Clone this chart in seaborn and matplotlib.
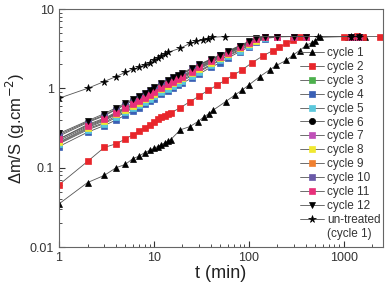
import numpy as np
import pandas as pd
import matplotlib
matplotlib.use('Agg')
import matplotlib.pyplot as plt
from matplotlib.lines import Line2D
import seaborn as sns

# times (min)
t_c1 = [1, 2, 3, 4, 5, 6, 7, 8, 9, 10, 11, 12, 13, 14, 15, 19, 24, 29, 34, 38, 42, 57, 71, 85, 100, 130,
        167, 196, 250, 290, 343, 405, 460, 500, 560, 1100, 1300, 1500, 1700]
t_c2 = [1, 2, 3, 4, 5, 6, 7, 8, 9, 10, 11, 12, 13, 14, 15, 19, 24, 30, 37, 46, 56, 68, 84, 108, 140, 180,
        211, 250, 290, 343, 400, 1000, 1200, 1400, 1600, 2400]
t_c = [1, 2, 3, 4, 5, 6, 7, 8, 9, 10, 12, 14, 16, 18, 20, 25, 30, 40, 50, 60, 80, 100, 120, 150, 200, 300,
       400, 1200, 1440]
t_un = [1, 2, 3, 4, 5, 6, 7, 8, 9, 10, 11, 12, 13, 14, 19, 24, 28, 33, 37, 41, 56, 540, 1200, 1440]

# delta m / S (g.cm-2)
cycle1 = [0.035, 0.065, 0.08, 0.1, 0.11, 0.13, 0.14, 0.155, 0.165, 0.175, 0.185, 0.195, 0.205, 0.215, 0.225,
          0.30, 0.33, 0.38, 0.44, 0.48, 0.53, 0.68, 0.82, 0.95, 1.1, 1.4, 1.72, 1.95, 2.26, 2.6, 3.0, 3.5,
          3.75, 4.0, 4.4, 4.5, 4.5, 4.55, 4.5]
cycle2 = [0.061, 0.12, 0.18, 0.2, 0.23, 0.26, 0.29, 0.32, 0.35, 0.38, 0.41, 0.43, 0.45, 0.47, 0.49, 0.57,
          0.68, 0.8, 0.94, 1.09, 1.26, 1.46, 1.69, 2.1, 2.55, 3.0, 3.3, 3.7, 4.05, 4.4, 4.5, 4.5, 4.5, 4.55,
          4.5, 4.5]
cycle3 = [0.205, 0.31, 0.37, 0.45, 0.51, 0.58, 0.63, 0.70, 0.76, 0.82, 0.93, 1.02, 1.12, 1.21, 1.28, 1.49,
          1.67, 2.0, 2.3, 2.6, 3.1, 3.5, 3.95, 4.35, 4.5, 4.5, 4.5, 4.5, 4.5]
cycle4 = [0.185, 0.28, 0.34, 0.40, 0.46, 0.52, 0.57, 0.63, 0.69, 0.74, 0.84, 0.92, 1.0, 1.09, 1.16, 1.35,
          1.52, 1.85, 2.1, 2.4, 2.9, 3.3, 3.8, 4.25, 4.45, 4.5, 4.5, 4.5, 4.5]
cycle5 = [0.2, 0.30, 0.36, 0.43, 0.50, 0.56, 0.61, 0.68, 0.74, 0.79, 0.9, 0.99, 1.08, 1.17, 1.24, 1.44,
          1.62, 1.95, 2.25, 2.55, 3.0, 3.45, 3.9, 4.3, 4.5, 4.5, 4.5, 4.5, 4.5]
cycle6 = [0.26, 0.38, 0.46, 0.55, 0.63, 0.71, 0.78, 0.86, 0.93, 1.0, 1.14, 1.25, 1.35, 1.45, 1.53, 1.76,
          1.97, 2.3, 2.6, 2.9, 3.4, 3.85, 4.25, 4.5, 4.5, 4.5, 4.5, 4.5, 4.5]
cycle7 = [0.22, 0.33, 0.40, 0.48, 0.55, 0.62, 0.68, 0.75, 0.82, 0.88, 1.0, 1.1, 1.2, 1.3, 1.38, 1.6,
          1.8, 2.15, 2.45, 2.75, 3.25, 3.7, 4.1, 4.45, 4.5, 4.5, 4.5, 4.5, 4.5]
cycle8 = [0.21, 0.32, 0.39, 0.47, 0.53, 0.60, 0.66, 0.73, 0.80, 0.85, 0.97, 1.07, 1.16, 1.26, 1.34, 1.55,
          1.75, 2.1, 2.4, 2.7, 3.2, 3.6, 4.0, 4.4, 4.5, 4.5, 4.5, 4.5, 4.5]
cycle9 = [0.23, 0.35, 0.42, 0.50, 0.58, 0.65, 0.71, 0.79, 0.86, 0.92, 1.05, 1.15, 1.26, 1.36, 1.45, 1.68,
          1.88, 2.25, 2.55, 2.85, 3.35, 3.8, 4.2, 4.5, 4.5, 4.5, 4.5, 4.5, 4.5]
cycle10 = [0.25, 0.37, 0.45, 0.54, 0.62, 0.70, 0.77, 0.85, 0.93, 1.0, 1.13, 1.24, 1.34, 1.44, 1.52, 1.75,
           1.96, 2.3, 2.6, 2.9, 3.4, 3.8, 4.2, 4.5, 4.5, 4.5, 4.5, 4.5, 4.5]
cycle11 = [0.23, 0.34, 0.41, 0.49, 0.56, 0.63, 0.69, 0.76, 0.83, 0.90, 1.02, 1.12, 1.22, 1.32, 1.41, 1.63,
           1.84, 2.2, 2.5, 2.8, 3.3, 3.75, 4.15, 4.45, 4.5, 4.5, 4.5, 4.5, 4.5]
cycle12 = [0.27, 0.39, 0.48, 0.57, 0.65, 0.73, 0.80, 0.88, 0.96, 1.03, 1.17, 1.28, 1.38, 1.48, 1.57, 1.80,
           2.0, 2.35, 2.65, 2.95, 3.45, 3.9, 4.3, 4.5, 4.5, 4.5, 4.5, 4.5, 4.5]
untreated = [0.75, 1.0, 1.22, 1.41, 1.59, 1.74, 1.85, 1.98, 2.1, 2.25, 2.4, 2.55, 2.7, 2.85, 3.2, 3.7,
             3.9, 4.05, 4.2, 4.4, 4.5, 4.5, 4.5, 4.5]

labels = ['cycle 1', 'cycle 2', 'cycle 3', 'cycle 4', 'cycle 5', 'cycle 6', 'cycle 7', 'cycle 8',
          'cycle 9', 'cycle 10', 'cycle 11', 'cycle 12', 'un-treated']
times = [t_c1, t_c2, t_c, t_c, t_c, t_c, t_c, t_c, t_c, t_c, t_c, t_c, t_un]
values = [cycle1, cycle2, cycle3, cycle4, cycle5, cycle6, cycle7, cycle8, cycle9, cycle10, cycle11,
          cycle12, untreated]
colors = ['black', '#e8262b', '#4cb04c', '#3a5fb5', '#5bc8dc', 'black', '#c050b8', '#f0e830',
          '#f08030', '#6a5aa8', '#e8307a', 'black', 'black']
markers = ['^', 's', 's', 's', 's', 'o', 's', 's', 's', 's', 's', 'v', '*']
msizes = [5, 3.8, 3.8, 3.8, 3.8, 4.5, 3.8, 3.8, 3.8, 3.8, 3.8, 5, 5.5]

sns.set_style('ticks')
plt.rcParams['font.family'] = ['Liberation Sans', 'DejaVu Sans']

fig = plt.figure(figsize=(3.88, 2.91), dpi=100)
ax = fig.add_axes([0.152, 0.151, 0.835, 0.818])

for lab, t, v, c, m, ms in zip(labels, times, values, colors, markers, msizes):
    sns.lineplot(x=t, y=v, ax=ax, color='#555555', lw=0.6, marker=m, markersize=ms,
                 markerfacecolor=c, markeredgecolor=c, mew=0.5, label=lab, sort=False)

ax.set_xscale('log')
ax.set_yscale('log')
ax.set_xlim(1, 2600)
ax.set_ylim(0.01, 10)
ax.set_xticks([1, 10, 100, 1000])
ax.set_xticklabels(['1', '10', '100', '1000'])
ax.set_yticks([0.01, 0.1, 1, 10])
ax.set_yticklabels(['0.01', '0.1', '1', '10'])
ax.tick_params(which='both', direction='in', top=False, right=False, colors='#333333', labelsize=9)
ax.tick_params(which='major', length=4)
ax.tick_params(which='minor', length=2)
for s in ax.spines.values():
    s.set_color('#666666')
    s.set_linewidth(0.8)

ax.set_xlabel('t (min)', fontsize=13, color='#222222', labelpad=1)
ax.set_ylabel('Δm/S (g.cm$^{-2}$)', fontsize=12, color='#222222', labelpad=2)

handles, labs = ax.get_legend_handles_labels()
handles.append(Line2D([], [], color='none'))
labs.append('(cycle 1)')
leg = ax.legend(handles, labs, loc='upper right', bbox_to_anchor=(0.997, 0.845), frameon=False,
                fontsize=8.5, labelspacing=0.16, handlelength=2.0, handletextpad=0.3,
                borderaxespad=0, borderpad=0.1)
for txt in leg.get_texts():
    txt.set_color('#333333')

fig.savefig('out.png', dpi=100)
